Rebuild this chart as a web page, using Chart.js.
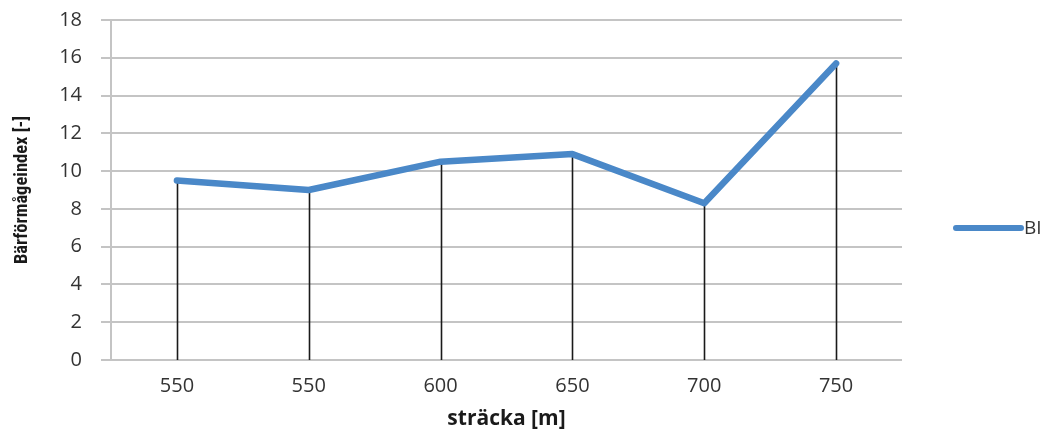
<!DOCTYPE html>
<html>
<head>
<meta charset="utf-8">
<script src="https://cdn.jsdelivr.net/npm/chart.js@4/dist/chart.umd.min.js"></script>
<style>
  html, body { margin: 0; padding: 0; background: #ffffff; }
  #wrap { width: 1051px; height: 432px; }
</style>
</head>
<body>
<div id="wrap"><canvas id="c" width="1051" height="432"></canvas></div>
<script>
// Stations along the line (metres) and bearing-capacity index per station
const categories = ['550', '550', '600', '650', '700', '750'];
const biValues = [9.5, 9.0, 10.5, 10.9, 8.3, 15.7];
const yTicks = [0, 2, 4, 6, 8, 10, 12, 14, 16, 18];

const seriesName = 'BI';
const seriesColor = '#4a88c8';
const textColor = '#333333';
const gridColor = '#c4c4c4';
const tickFont = '"Open Sans", "DejaVu Sans", sans-serif';

// Thin black drop lines from each point down to the category axis
const dropLines = {
  id: 'dropLines',
  beforeDatasetsDraw(chart) {
    const { ctx } = chart;
    const y = chart.scales.y;
    const meta = chart.getDatasetMeta(0);
    ctx.save();
    ctx.strokeStyle = '#1a1a1a';
    ctx.lineWidth = 1.6;
    meta.data.forEach((pt) => {
      ctx.beginPath();
      ctx.moveTo(Math.round(pt.x) + 0.5, pt.y);
      ctx.lineTo(Math.round(pt.x) + 0.5, y.getPixelForValue(0));
      ctx.stroke();
    });
    ctx.restore();
  }
};

// Legend entry to the right of the plot: line sample plus series name
const sideLegend = {
  id: 'sideLegend',
  afterDraw(chart) {
    const { ctx } = chart;
    const ds = chart.data.datasets[0];
    const cy = 228;
    const x0 = 956, x1 = 1021;
    ctx.save();
    ctx.strokeStyle = ds.borderColor;
    ctx.lineWidth = 6;
    ctx.lineCap = 'round';
    ctx.beginPath();
    ctx.moveTo(x0, cy);
    ctx.lineTo(x1, cy);
    ctx.stroke();
    ctx.fillStyle = textColor;
    ctx.font = '19px ' + tickFont;
    ctx.textBaseline = 'middle';
    ctx.textAlign = 'left';
    ctx.fillText(ds.label, 1024, cy + 1);
    ctx.restore();
  }
};

new Chart(document.getElementById('c'), {
  type: 'line',
  data: {
    labels: categories,
    datasets: [{
      label: seriesName,
      data: biValues,
      borderColor: seriesColor,
      backgroundColor: seriesColor,
      borderWidth: 6.5,
      borderCapStyle: 'round',
      borderJoinStyle: 'round',
      pointRadius: 0,
      pointHoverRadius: 0,
      tension: 0,
      fill: false
    }]
  },
  options: {
    responsive: false,
    animation: false,
    events: [],
    layout: { padding: { left: 0, right: 149, top: 20, bottom: 0 } },
    plugins: {
      legend: { display: false },
      tooltip: { enabled: false }
    },
    scales: {
      x: {
        offset: true,
        grid: { display: false, drawTicks: false },
        border: { display: false },
        ticks: {
          color: textColor,
          padding: 14,
          maxRotation: 0,
          font: { family: tickFont, size: 20 }
        },
        title: {
          display: true,
          text: 'sträcka [m]',
          color: '#1a1a1a',
          padding: { top: 0, bottom: 0 },
          font: { family: tickFont, size: 21, weight: 'bold' }
        },
        afterFit(scale) {
          scale.height = 72;
          scale.paddingLeft = 0;
          scale.paddingRight = 0;
        }
      },
      y: {
        min: 0,
        max: 18,
        afterBuildTicks(scale) { scale.ticks = yTicks.map(v => ({ value: v })); },
        grid: {
          color: gridColor,
          lineWidth: 2,
          drawTicks: true,
          tickLength: 10,
          tickColor: gridColor
        },
        border: { display: true, color: gridColor, width: 2 },
        ticks: {
          color: textColor,
          padding: 19,
          font: { family: tickFont, size: 20 }
        },
        title: {
          display: true,
          text: 'Bärförmågeindex [-]',
          color: '#1a1a1a',
          padding: { top: 11, bottom: 0 },
          font: { family: '"Liberation Sans Narrow", "Roboto Condensed", "Liberation Sans", sans-serif', size: 18.5, weight: 'bold' }
        },
        afterFit(scale) {
          scale.width = 111;
          scale.paddingTop = 0;
          scale.paddingBottom = 0;
        }
      }
    }
  },
  plugins: [dropLines, sideLegend]
});
</script>
</body>
</html>
